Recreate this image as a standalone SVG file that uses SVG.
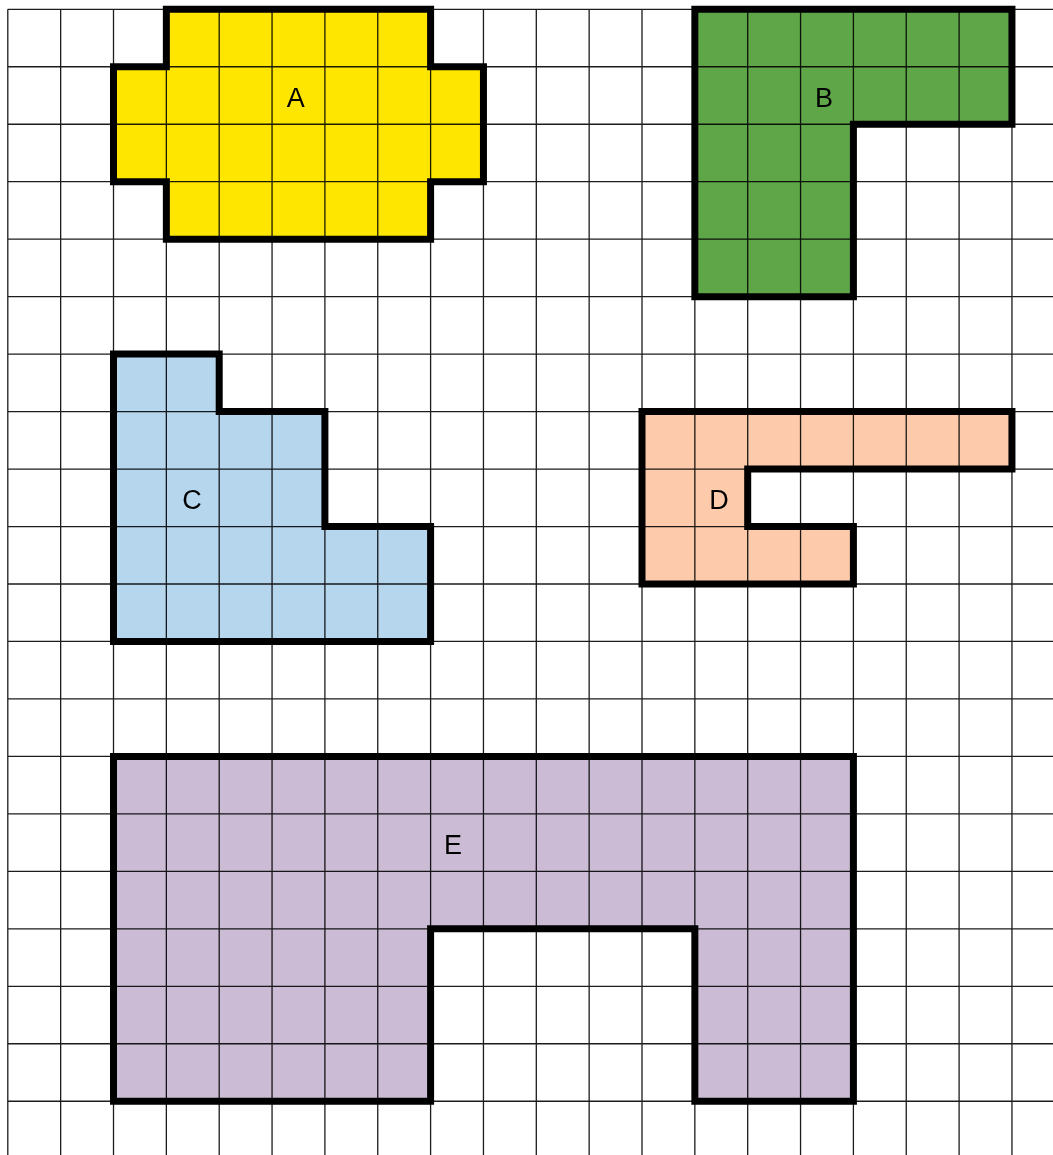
<svg xmlns="http://www.w3.org/2000/svg" width="1053" height="1155" viewBox="0 0 1053 1155">
<style>
.grid{stroke:#1c1c1c;stroke-width:1.3;fill:none}
.shape{stroke:#000;stroke-width:7;stroke-linejoin:miter;mix-blend-mode:multiply}
.lbl{font-family:"Liberation Sans",Arial,sans-serif;font-size:27px;fill:#000;text-anchor:middle}
</style>
<rect x="0" y="0" width="1053" height="1155" fill="#fff"/>
<g id="grid" class="grid">
<path d="M7.8 9.3V1155M60.65 9.3V1155M113.5 9.3V1155M166.35 9.3V1155M219.2 9.3V1155M272.05 9.3V1155M324.9 9.3V1155M377.75 9.3V1155M430.6 9.3V1155M483.45 9.3V1155M536.3 9.3V1155M589.15 9.3V1155M642 9.3V1155M694.85 9.3V1155M747.7 9.3V1155M800.55 9.3V1155M853.4 9.3V1155M906.25 9.3V1155M959.1 9.3V1155M1011.95 9.3V1155"/>
<path d="M7.8 9.3H1053M7.8 66.77H1053M7.8 124.24H1053M7.8 181.71H1053M7.8 239.18H1053M7.8 296.65H1053M7.8 354.12H1053M7.8 411.59H1053M7.8 469.06H1053M7.8 526.53H1053M7.8 584H1053M7.8 641.47H1053M7.8 698.94H1053M7.8 756.41H1053M7.8 813.88H1053M7.8 871.35H1053M7.8 928.82H1053M7.8 986.29H1053M7.8 1043.76H1053M7.8 1101.23H1053"/>
</g>
<g id="A">
<polygon class="shape" fill="#FFE600" points="166.35,9.3 430.6,9.3 430.6,66.77 483.45,66.77 483.45,181.71 430.6,181.71 430.6,239.18 166.35,239.18 166.35,181.71 113.5,181.71 113.5,66.77 166.35,66.77"/>
<text class="lbl" x="295.7" y="106.8">A</text>
</g>
<g id="B">
<polygon class="shape" fill="#5FA648" points="694.85,9.3 1011.95,9.3 1011.95,124.24 853.4,124.24 853.4,296.65 694.85,296.65"/>
<text class="lbl" x="824" y="106.8">B</text>
</g>
<g id="C">
<polygon class="shape" fill="#B6D6EE" points="113.5,354.12 219.2,354.12 219.2,411.59 324.9,411.59 324.9,526.53 430.6,526.53 430.6,641.47 113.5,641.47"/>
<text class="lbl" x="192" y="508.5">C</text>
</g>
<g id="D">
<polygon class="shape" fill="#FDCAAB" points="642,411.59 1011.95,411.59 1011.95,469.06 747.7,469.06 747.7,526.53 853.4,526.53 853.4,584 642,584"/>
<text class="lbl" x="719" y="508.5">D</text>
</g>
<g id="E">
<polygon class="shape" fill="#CBBBD5" points="113.5,756.41 853.4,756.41 853.4,1101.23 694.85,1101.23 694.85,928.82 430.6,928.82 430.6,1101.23 113.5,1101.23"/>
<text class="lbl" x="453" y="854.3">E</text>
</g>
</svg>
